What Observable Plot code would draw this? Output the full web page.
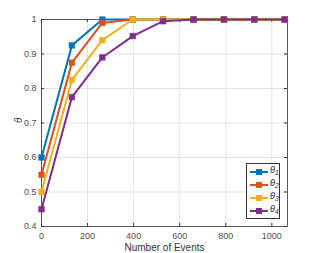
<!DOCTYPE html>
<html><head><meta charset="utf-8">
<script src="https://cdn.jsdelivr.net/npm/d3@7"></script>
<script src="https://cdn.jsdelivr.net/npm/@observablehq/plot@0.6"></script>
<style>
body{margin:0;background:#fff;font-family:"Liberation Sans",Arial,sans-serif;}
#wrap{position:relative;width:317px;height:253px;}
#legend{position:absolute;left:246px;top:163px;width:34px;height:56px;border:1px solid #333;background:#fff;box-sizing:border-box;font-size:9px;}
#legend .row{position:absolute;left:2px;height:11px;display:flex;align-items:center;}
#legend .lab{font-style:italic;color:#222;margin-left:1px;line-height:9px;}
#legend sub{font-size:6.5px;vertical-align:-2px;}
</style></head><body>
<div id="wrap"></div>
<script>
const events = [0, 132, 264, 396, 528, 660, 792, 924, 1056];
const theta1 = [0.60, 0.925, 1.00, 1.00, 1.00, 1.00, 1.00, 1.00, 1.00];
const theta2 = [0.55, 0.875, 0.99, 1.00, 1.00, 1.00, 1.00, 1.00, 1.00];
const theta3 = [0.50, 0.825, 0.94, 1.00, 1.00, 1.00, 1.00, 1.00, 1.00];
const theta4 = [0.45, 0.775, 0.89, 0.952, 0.995, 1.00, 1.00, 1.00, 1.00];
const seriesNames = ["θ1", "θ2", "θ3", "θ4"];
const seriesColors = ["#0072BD", "#D95319", "#EDB120", "#7E2F8E"];
const xTicks = [0, 200, 400, 600, 800, 1000];
const yTicks = [0.4, 0.5, 0.6, 0.7, 0.8, 0.9, 1];

const allSeries = [theta1, theta2, theta3, theta4];
const data = allSeries.flatMap((vals, i) => vals.map((v, j) => ({x: events[j], y: v, s: seriesNames[i]})));

const W = 317, H = 253, mL = 41, mR = 30, mT = 19, mB = 27;
const pw = W - mL - mR, ph = H - mT - mB;

const marks = [
  Plot.gridX(xTicks, {stroke: "#e3e3e3", strokeOpacity: 1}),
  Plot.gridY(yTicks, {stroke: "#e3e3e3", strokeOpacity: 1}),
  Plot.axisX(xTicks, {tickSize: 0, tickPadding: 6, fontSize: 9, fill: "#4d4d4d", label: null, tickFormat: d => String(d)}),
  Plot.axisY(yTicks, {tickSize: 0, tickPadding: 5, fontSize: 9, fill: "#4d4d4d", label: null, tickFormat: d => String(d)}),
  Plot.tickX(xTicks, {x: d => d, stroke: "#333", insetTop: ph - 3}),
  Plot.tickX(xTicks, {x: d => d, stroke: "#333", insetBottom: ph - 3}),
  Plot.tickY(yTicks, {y: d => d, stroke: "#333", insetRight: pw - 3}),
  Plot.tickY(yTicks, {y: d => d, stroke: "#333", insetLeft: pw - 3}),
  Plot.frame({stroke: "#333", strokeWidth: 0.8}),
];
seriesNames.forEach((name, i) => {
  const d = data.filter(r => r.s === name);
  marks.push(Plot.line(d, {x: "x", y: "y", stroke: seriesColors[i], strokeWidth: 2}));
  marks.push(Plot.dot(d, {x: "x", y: "y", symbol: "square", r: 3.2, fill: seriesColors[i], stroke: seriesColors[i], strokeWidth: 0.5}));
});
marks.push(Plot.text(["Number of Events"], {frameAnchor: "bottom", lineAnchor: "middle", dy: 21, fontSize: 10, fill: "#333"}));
marks.push(Plot.text(["θ"], {frameAnchor: "left", dx: -23, rotate: -90, fontSize: 10, fill: "#333", fontStyle: "italic"}));

const chart = Plot.plot({
  width: W, height: H,
  marginLeft: mL, marginRight: mR, marginTop: mT, marginBottom: mB,
  style: {fontFamily: "'Liberation Sans', Arial, sans-serif", background: "#fff", overflow: "visible"},
  x: {domain: [0, 1068]},
  y: {domain: [0.4, 1]},
  marks
});
const wrap = document.getElementById("wrap");
wrap.appendChild(chart);

const legend = document.createElement("div");
legend.id = "legend";
seriesNames.forEach((name, i) => {
  const row = document.createElement("div");
  row.className = "row";
  row.style.top = (2 + i * 13) + "px";
  row.innerHTML = `<svg width="20" height="10"><line x1="1" y1="5" x2="19" y2="5" stroke="${seriesColors[i]}" stroke-width="2"/><rect x="7" y="2" width="6" height="6" fill="${seriesColors[i]}"/></svg><span class="lab">θ<sub>${name.slice(1)}</sub></span>`;
  legend.appendChild(row);
});
wrap.appendChild(legend);
</script>
</body></html>
